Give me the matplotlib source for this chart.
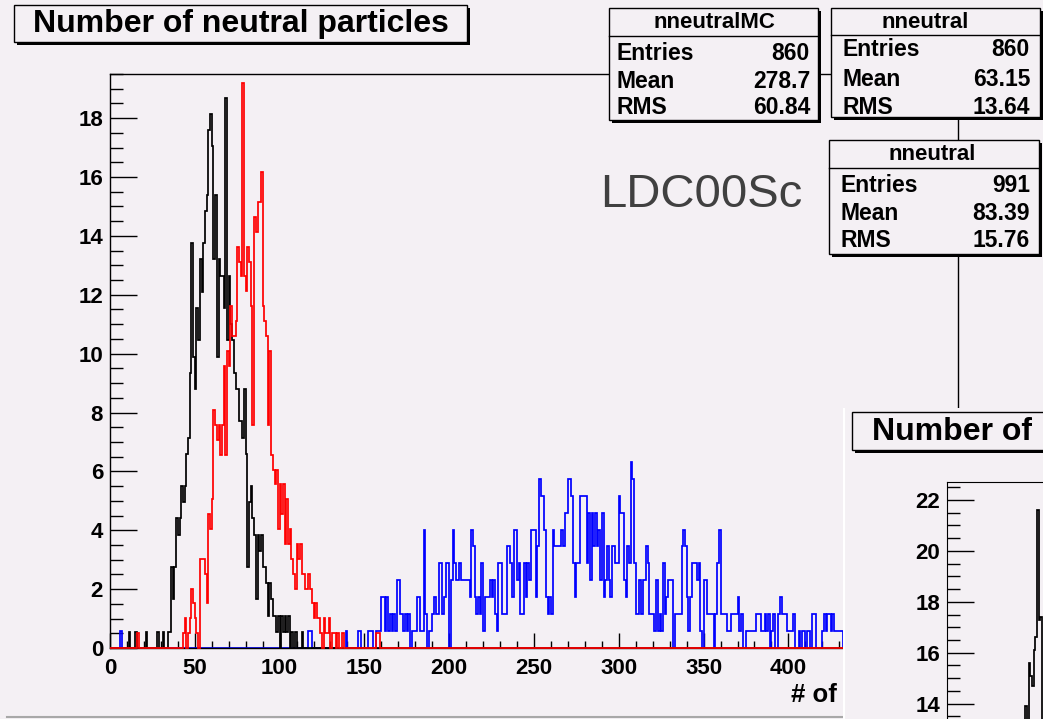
import numpy as np
import matplotlib
matplotlib.use("Agg")
import matplotlib.pyplot as plt
from matplotlib.patches import Rectangle
from matplotlib.lines import Line2D
from matplotlib.ticker import MultipleLocator

# bin contents (one bin per unit of x)
black_first = 11
black_counts = [1, 0, 0, 0, 1, 0, 0, 0, 0, 0, 1, 0, 0, 0, 0, 0, 0, 1, 0, 0,
                1, 0, 0, 1, 1, 5, 3, 5, 8, 7, 8, 10, 9, 10, 12, 13, 17, 25, 18, 16,
                21, 19, 24, 22, 25, 27, 28, 32, 33, 31, 24, 28, 18, 24, 23, 23, 21, 34, 19, 23,
                20, 19, 17, 16, 16, 14, 14, 13, 16, 12, 5, 9, 10, 8, 7, 3, 7, 6, 7, 5,
                5, 4, 2, 4, 3, 2, 2, 1, 2, 0, 2, 1, 2, 1, 2, 0, 1, 0, 1, 0,
                0, 0, 1]
black_scale = 0.55

red_first = 16
red_counts = [1] + [0] * 26 + [
    1, 2, 0, 1, 2, 4, 3, 2, 1, 0, 6, 6, 6, 5, 3, 9, 8, 10,
    16, 15, 14, 15, 13, 15, 19, 13, 20, 19, 23, 21, 21, 22, 27, 26, 25, 38, 25, 24,
    27, 26, 23, 15, 29, 28, 30, 30, 32, 23, 22, 21, 15, 20, 13, 12, 11, 12, 8, 11,
    9, 11, 7, 10, 7, 8, 6, 5, 4, 7, 6, 7, 5, 5, 4, 4, 5, 4, 3, 2,
    3, 2, 2, 1, 0, 2, 1, 1, 2, 0, 1, 1, 0, 1, 0, 0, 1] + [0] * 19 + [1, 1]
red_scale = 0.505

blue_first = 144
blue_counts = [0, 0, 1, 1, 0, 0, 0, 0, 1, 1, 1, 0, 0, 1, 1, 1,
               3, 3, 1, 3, 1, 2, 1, 2, 1, 4,
               4, 2, 2, 1, 2, 1, 2, 0, 1, 1,
               1, 3, 3, 1, 1, 7, 2, 0, 1, 1,
               2, 3, 2, 2, 5, 5, 2, 3, 5, 5,
               0, 4, 7, 5, 4, 4, 5, 4, 4, 4,
               4, 4, 3, 7, 6, 3, 2, 3, 2, 5,
               1, 3, 3, 3, 4, 3, 4, 2, 1, 5,
               5, 2, 2, 2, 6, 6, 5, 3, 7, 7,
               4, 5, 2, 2, 5, 3, 5, 4, 7, 7,
               7, 3, 6, 10, 9, 9, 7, 3, 2, 3,
               2, 7, 6, 6, 6, 6, 7, 6, 8, 8,
               10, 10, 9, 5, 3, 5, 5, 9, 9, 9,
               9, 5, 8, 4, 8, 6, 8, 6, 7, 4,
               8, 3, 4, 6, 4, 3, 6, 6, 5, 5,
               9, 8, 8, 4, 3, 6, 5, 11, 10, 5,
               2, 2, 4, 2, 4, 4, 6, 5, 2, 2,
               2, 1, 4, 1, 2, 1, 5, 2, 3, 4,
               4, 4, 0, 2, 2, 2, 2, 6, 7, 6,
               3, 1, 3, 5, 5, 5, 4, 5, 1, 0,
               4, 4, 2, 2, 2, 2, 0, 2, 5, 7,
               2, 2, 2, 2, 1, 1, 2, 2, 2, 2,
               3, 1, 2, 0, 0, 1, 1, 1, 1, 1,
               1, 2, 2, 2, 1, 1, 2, 1, 2, 0,
               1, 2, 0, 0, 2, 3, 2, 2, 2, 1,
               1, 1, 1, 2, 0, 0, 1, 0, 1, 1,
               0, 1, 1, 0, 2, 2, 0, 0, 0, 0,
               1, 2, 1, 2, 2, 1, 2, 1, 1, 1,
               1, 1]
blue_extra_bins = [6, 117, 118, 139]
blue_extra_counts = [1, 1, 1, 1]
blue_scale = 0.575

# second pad on the right, only its left edge is visible
right_first = 45
right_heights = [11.0, 13.9, 13.2, 15.6, 15.1, 14.7, 16.1, 16.6, 21.6, 17.3, 17.4]

stat_names = ["nneutralMC", "nneutral", "nneutral"]
stat_entries = ["860", "860", "991"]
stat_means = ["278.7", "63.15", "83.39"]
stat_rms = ["60.84", "13.64", "15.76"]

W, H = 1043, 719
BG = "#f4f0f4"

plt.rcParams["font.family"] = ["Liberation Sans", "DejaVu Sans"]
plt.rcParams["font.weight"] = "bold"

fig = plt.figure(figsize=(W / 100, H / 100), dpi=100, facecolor=BG)


def rect(x0, y0, x1, y1):
    # pixel box (from top-left) -> figure fraction
    return [x0 / W, 1 - y1 / H, (x1 - x0) / W, (y1 - y0) / H]


def box(x0, y0, x1, y1, z, shadow=3):
    fig.add_artist(Rectangle(((x0 + shadow) / W, 1 - (y1 + shadow) / H),
                             (x1 - x0) / W, (y1 - y0) / H, transform=fig.transFigure,
                             facecolor="black", edgecolor="none", zorder=z))
    fig.add_artist(Rectangle((x0 / W, 1 - y1 / H), (x1 - x0) / W, (y1 - y0) / H,
                             transform=fig.transFigure, facecolor=BG,
                             edgecolor="black", lw=1.0, zorder=z + 0.1))


def hline(x0, x1, y, z, color="black", lw=1.0):
    fig.add_artist(Line2D([x0 / W, x1 / W], [1 - y / H, 1 - y / H],
                          transform=fig.transFigure, color=color, lw=lw, zorder=z))


def ftext(x, y, s, z, **kw):
    fig.text(x / W, 1 - y / H, s, zorder=z, **kw)


# main pad
nbins = 500
edges = np.arange(nbins + 1)


def fill(first, counts, scale):
    h = np.zeros(nbins)
    h[first:first + len(counts)] = np.asarray(counts) * scale
    return h


blue_h = fill(blue_first, blue_counts, blue_scale)
blue_h[blue_extra_bins] = np.asarray(blue_extra_counts) * blue_scale
black_h = fill(black_first, black_counts, black_scale)
red_h = fill(red_first, red_counts, red_scale)

ax = fig.add_axes(rect(110, 74, 958, 648))
ax.set_facecolor(BG)
ax.set_zorder(0)
ax.stairs(blue_h, edges, color="#0000ff", lw=1.25, clip_on=False, zorder=2)
ax.stairs(black_h, edges, color="black", lw=1.25, clip_on=False, zorder=3)
ax.stairs(red_h, edges, color="#ff0000", lw=1.25, clip_on=False, zorder=4)
ax.set_xlim(0, 500)
ax.set_ylim(0, 19.5)
ax.xaxis.set_major_locator(MultipleLocator(50))
ax.xaxis.set_minor_locator(MultipleLocator(10))
ax.yaxis.set_major_locator(MultipleLocator(2))
ax.yaxis.set_minor_locator(MultipleLocator(0.5))
ax.tick_params(which="both", direction="in", top=False, right=False, width=1.0)
ax.tick_params(axis="y", which="major", length=19.5, pad=5, labelsize=16)
ax.tick_params(axis="y", which="minor", length=9.5)
ax.tick_params(axis="x", which="major", length=10.8, pad=7, labelsize=16)
ax.tick_params(axis="x", which="minor", length=5.4)
for s in ax.spines.values():
    s.set_linewidth(1.0)

# axis title runs on under the right pad, as in the screenshot
ftext(791, 695, "# of neutral particles", 3, ha="left", va="center", fontsize=18.5)
ftext(600, 195, "LDC00Sc", 3, ha="left", va="center", fontsize=34,
      fontweight="normal", color="#404040")
hline(7, 845, 717, 3, color="#a8a8a8", lw=1.5)

# title box
box(14, 5, 467, 42, z=8)
ftext(240.5, 24, "Number of neutral particles", 9, ha="center", va="center", fontsize=23)

# right pad
pad2 = fig.add_axes(rect(843, 408, W, H))
pad2.set_facecolor(BG)
pad2.set_zorder(5)
pad2.set_xticks([])
pad2.set_yticks([])
for s in pad2.spines.values():
    s.set_visible(False)
pad2.axvline(0, color="white", lw=3)

ax2 = fig.add_axes(rect(947, 482, W, H))
ax2.set_facecolor(BG)
ax2.set_zorder(6)
ax2.stairs(right_heights, np.arange(right_first, right_first + len(right_heights) + 1),
           color="black", lw=1.25)
ax2.set_xlim(0, 56.5)
ax2.set_ylim(13.4, 22.7)
ax2.yaxis.set_major_locator(MultipleLocator(2))
ax2.yaxis.set_minor_locator(MultipleLocator(0.5))
ax2.set_xticks([])
ax2.tick_params(which="both", direction="in", right=False, width=1.0)
ax2.tick_params(axis="y", which="major", length=19.5, pad=5, labelsize=16)
ax2.tick_params(axis="y", which="minor", length=9.5)
ax2.spines["right"].set_visible(False)
ax2.spines["bottom"].set_visible(False)

box(852, 412, 1308, 450, z=8)
ftext(1080, 432, "Number of neutral particles", 9, ha="center", va="center", fontsize=23)

# stat boxes
stat_geo = [(609, 8, 818, 120, 36, 714, 617, 810, [53, 81, 108]),
            (831, 8, 1040, 117, 35, 925, 842, 1030, [50, 79, 107]),
            (829, 140, 1039, 254, 168, 932, 840, 1030, [185, 213, 240])]
for i, (x0, y0, x1, y1, sep, hx, lx, rx, rows) in enumerate(stat_geo):
    box(x0, y0, x1, y1, z=10)
    hline(x0, x1, sep, 10.5)
    ftext(hx, (y0 + sep) / 2 + 1, stat_names[i], 11, ha="center", va="center", fontsize=16)
    for lab, val, yy in zip(["Entries", "Mean", "RMS"],
                            [stat_entries[i], stat_means[i], stat_rms[i]], rows):
        ftext(lx, yy, lab, 11, ha="left", va="center", fontsize=16.5)
        ftext(rx, yy, val, 11, ha="right", va="center", fontsize=16.5)

fig.savefig("out.png", dpi=100, facecolor=BG)
